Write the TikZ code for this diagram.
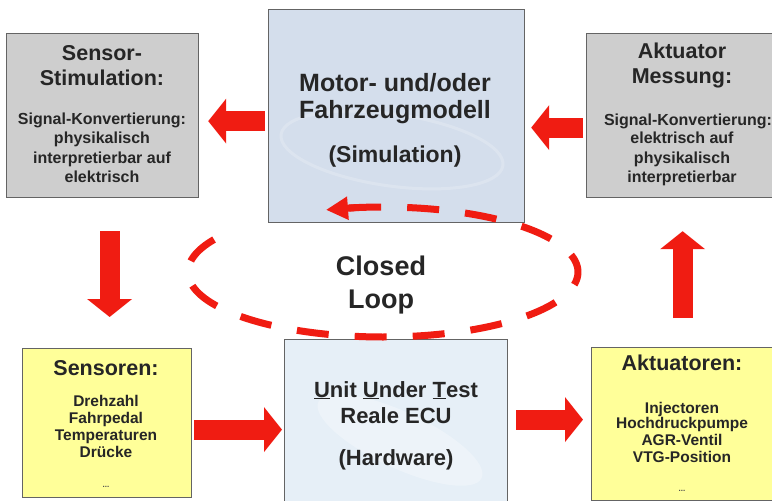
\documentclass[tikz,border=0pt]{standalone}
\usepackage{fontspec}
\setmainfont{Liberation Sans}
\usetikzlibrary{arrows.meta}

\definecolor{arrowred}{RGB}{240,28,18}
\definecolor{boxgray}{RGB}{206,206,206}
\definecolor{boxline}{RGB}{100,100,100}
\definecolor{simblue}{RGB}{212,222,236}
\definecolor{hwblue}{RGB}{230,239,247}
\definecolor{sensyellow}{RGB}{255,255,153}

\begin{document}
\begin{tikzpicture}[x=1pt,y=-1pt,
  panel/.style={draw=boxline, line width=1.2pt, inner sep=0pt, anchor=north west},
  head/.style={font=\fontsize{21.5}{21.5}\selectfont\bfseries, anchor=base, inner sep=0pt, text=black!85},
  small/.style={font=\fontsize{16}{16}\selectfont\bfseries, anchor=base, inner sep=0pt, text=black!85},
  item/.style={font=\fontsize{15.5}{15.5}\selectfont\bfseries, anchor=base, inner sep=0pt, text=black!85},
  dots/.style={font=\fontsize{8}{8}\selectfont\bfseries, anchor=base, inner sep=0pt, text=black!70},
  big/.style={font=\fontsize{25}{25}\selectfont\bfseries, anchor=base, inner sep=0pt, text=black!85},
  hw/.style={font=\fontsize{22}{22}\selectfont\bfseries, anchor=base, inner sep=0pt, text=black!85},
  flow/.style={draw=arrowred, line width=20pt, -{Triangle[length=18pt,width=44pt]}},
  loopline/.style={draw=arrowred, line width=7pt, dash pattern=on 32pt off 26.07pt},
]
\useasboundingbox (0,0) rectangle (772,501);
\clip (0,0) rectangle (772,501);
\fill[white] (0,0) rectangle (772,501);

% panels
\node[panel, fill=boxgray, minimum width=192pt, minimum height=164pt] (sstim) at (6,33) {};
\node[panel, fill=simblue, minimum width=256pt, minimum height=213pt] (model) at (268,9) {};
\node[panel, fill=boxgray, minimum width=194pt, minimum height=164pt] (amess) at (586,33) {};
\node[panel, fill=sensyellow, minimum width=169pt, minimum height=149pt] (sens) at (22,348) {};
\node[panel, fill=hwblue, minimum width=223pt, minimum height=175pt] (uut) at (284,339) {};
\node[panel, fill=sensyellow, minimum width=182pt, minimum height=153pt] (akt) at (591,347) {};

% faint background sketches inside the model and hardware panels
\draw[white, opacity=0.2, line width=3pt, rotate around={-8:(392,150)}] (392,150) ellipse [x radius=112pt, y radius=36pt];
\fill[white, opacity=0.3, rotate around={-25:(400,440)}] (400,440) ellipse [x radius=90pt, y radius=28pt];

% texts: sensor stimulation
\node[head] at (102,60) {Sensor-};
\node[head] at (102,85) {Stimulation:};
\node[small] at (102,124) {Signal-Konvertierung:};
\node[small] at (102,143) {physikalisch};
\node[small] at (102,163) {interpretierbar auf};
\node[small] at (102,182) {elektrisch};

% texts: model
\node[big] at (395,91) {Motor- und/oder};
\node[big] at (395,118) {Fahrzeugmodell};
\node[big, font=\fontsize{23}{23}\selectfont\bfseries] at (395,162) {(Simulation)};

% texts: actuator measurement
\node[head] at (682,58) {Aktuator};
\node[head] at (682,83) {Messung:};
\node[small] at (688,125) {Signal-Konvertierung:};
\node[small] at (682,143) {elektrisch auf};
\node[small] at (682,163) {physikalisch};
\node[small] at (682,182) {interpretierbar};

% texts: sensors
\node[head] at (106,375) {Sensoren:};
\node[item] at (106,406) {Drehzahl};
\node[item] at (106,423) {Fahrpedal};
\node[item] at (106,440) {Temperaturen};
\node[item] at (106,457) {Drücke};
\node[dots] at (106,487) {...};

% texts: unit under test
\node[hw] at (396,397) {\underline{U}nit \underline{U}nder \underline{T}est};
\node[hw] at (396,423) {Reale ECU};
\node[hw] at (396,465) {(Hardware)};

% texts: actuators
\node[head] at (682,370) {Aktuatoren:};
\node[item] at (682,413) {Injectoren};
\node[item] at (682,428) {Hochdruckpumpe};
\node[item] at (682,445) {AGR-Ventil};
\node[item] at (682,462) {VTG-Position};
\node[dots] at (682,491) {...};

% closed loop label
\node[big, font=\fontsize{27}{27}\selectfont\bfseries] (cl1) at (381,275) {Closed};
\node[big, font=\fontsize{27}{27}\selectfont\bfseries] (cl2) at (381,308) {Loop};

% signal flow arrows
\draw[flow, shorten <=3pt, shorten >=9pt] ([yshift=-5pt]model.west) -- ([yshift=-5pt]model.west -| sstim.east);
\draw[flow, shorten <=3pt, shorten >=6pt] ([yshift=-12pt]amess.west) -- ([yshift=-12pt]amess.west -| model.east);
\draw[flow, shorten <=33pt, shorten >=31pt] ([xshift=7pt]sstim.south) -- ([xshift=7pt]sstim.south |- sens.north);
\draw[flow, shorten <=29pt, shorten >=33pt] (akt.north) -- (akt.north |- amess.south);
\draw[flow, shorten <=2pt, shorten >=2pt] ([yshift=-6.5pt]sens.east) -- ([yshift=-6.5pt]sens.east -| uut.west);
\draw[flow, shorten <=8pt, shorten >=8pt] ([yshift=4.5pt]akt.west -| uut.east) -- ([yshift=4.5pt]akt.west);

% dashed closed-loop ellipse, ending in an arrow pointing left at the top
\coordinate (loopbase) at ({383+195*cos(458)}, {272-65*sin(458)});
\coordinate (looptip) at ({383+195*cos(467)}, {272-65*sin(467)});
\draw[loopline]
  plot[domain=0:310, samples=160, smooth, variable=\t]
  ({383+195*cos(460-\t)}, {272-65*sin(460-\t)});
\draw[draw=arrowred, line width=7pt, -{Triangle[length=22pt,width=22pt]}] (loopbase) -- (looptip);
\end{tikzpicture}
\end{document}
